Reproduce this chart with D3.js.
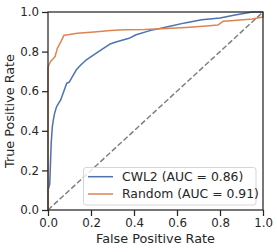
<!DOCTYPE html>
<html>
<head>
<meta charset="utf-8">
<script src="https://cdn.jsdelivr.net/npm/d3@7"></script>
<style>
  body { margin: 0; background: #fff; }
  text { font-family: "DejaVu Sans", sans-serif; fill: #262626; }
</style>
</head>
<body>
<svg></svg>
<script>
var width = 277,
    height = 252

// ROC curves: [false positive rate, true positive rate]
var cwl2Fpr = [0, 0, 0.008, 0.012, 0.015, 0.02, 0.025, 0.031, 0.04, 0.059, 0.087, 0.098, 0.133, 0.15, 0.18, 0.242, 0.288, 0.32, 0.381, 0.41, 0.474, 0.567, 0.637, 0.715, 0.8, 0.87, 0.924, 0.95, 1]
var cwl2Tpr = [0, 0.1, 0.13, 0.25, 0.34, 0.42, 0.455, 0.49, 0.522, 0.556, 0.64, 0.645, 0.71, 0.73, 0.76, 0.805, 0.838, 0.85, 0.869, 0.885, 0.906, 0.928, 0.945, 0.961, 0.97, 0.985, 0.995, 1, 1]

var randomFpr = [0, 0, 0.005, 0.012, 0.025, 0.033, 0.043, 0.06, 0.074, 0.1, 0.136, 0.214, 0.29, 0.353, 0.45, 0.55, 0.66, 0.75, 0.79, 0.814, 0.85, 0.95, 1, 1]
var randomTpr = [0, 0.72, 0.735, 0.75, 0.765, 0.775, 0.815, 0.85, 0.882, 0.886, 0.893, 0.899, 0.906, 0.91, 0.912, 0.917, 0.923, 0.93, 0.934, 0.953, 0.956, 0.965, 0.975, 1]

var seriesNames = ["CWL2 (AUC = 0.86)", "Random (AUC = 0.91)"]
var seriesColors = ["#4c72b0", "#dd8452"]
var tickValues = [0, 0.2, 0.4, 0.6, 0.8, 1.0]

var svg = d3.select("svg").attr("width", width).attr("height", height)

var x = d3.scaleLinear().domain([0, 1]).range([48, 263])
var y = d3.scaleLinear().domain([0, 1]).range([210, 12])

var line = d3.line()
  .x(function(d) { return x(d[0]) })
  .y(function(d) { return y(d[1]) })

// chance diagonal
svg.append("path")
  .datum([[0, 0], [1, 1]])
  .attr("d", line)
  .attr("fill", "none")
  .attr("stroke", "#808080")
  .attr("stroke-width", 1.5)
  .attr("stroke-dasharray", "5.5,2.4")

var series = [
  d3.zip(cwl2Fpr, cwl2Tpr),
  d3.zip(randomFpr, randomTpr)
]

series.forEach(function(s, i) {
  svg.append("path")
    .datum(s)
    .attr("d", line)
    .attr("fill", "none")
    .attr("stroke", seriesColors[i])
    .attr("stroke-width", 1.5)
    .attr("stroke-linejoin", "round")
})

// axes
var fmt = d3.format(".1f")
var xAxis = svg.append("g")
  .attr("transform", "translate(0,210)")
  .call(d3.axisBottom(x).tickValues(tickValues).tickFormat(fmt).tickSize(6).tickPadding(3))
var yAxis = svg.append("g")
  .attr("transform", "translate(48,0)")
  .call(d3.axisLeft(y).tickValues(tickValues).tickFormat(fmt).tickSize(6).tickPadding(3))

;[xAxis, yAxis].forEach(function(a) {
  a.select(".domain").remove()
  a.selectAll(".tick line").attr("stroke", "#262626").attr("stroke-width", 1.25)
  a.selectAll(".tick text").attr("fill", "#262626").style("font-size", "11.8px").style("font-family", "DejaVu Sans")
})

// frame
svg.append("rect")
  .attr("x", 48).attr("y", 12)
  .attr("width", 215).attr("height", 198)
  .attr("fill", "none")
  .attr("stroke", "#262626")
  .attr("stroke-width", 1.25)

svg.append("text")
  .attr("x", 155.5).attr("y", 243)
  .attr("text-anchor", "middle")
  .style("font-size", "12.8px")
  .text("False Positive Rate")

svg.append("text")
  .attr("transform", "translate(14,111) rotate(-90)")
  .attr("text-anchor", "middle")
  .style("font-size", "12.8px")
  .text("True Positive Rate")

// legend
var legend = svg.append("g")
legend.append("rect")
  .attr("x", 83.5).attr("y", 167.5)
  .attr("width", 172.5).attr("height", 37.5)
  .attr("rx", 2.5)
  .attr("fill", "#fff").attr("fill-opacity", 0.8)
  .attr("stroke", "#d6d6d6").attr("stroke-width", 1)

seriesNames.forEach(function(name, i) {
  var cy = 176.7 + i * 17.3
  legend.append("line")
    .attr("x1", 88).attr("x2", 113)
    .attr("y1", cy).attr("y2", cy)
    .attr("stroke", seriesColors[i])
    .attr("stroke-width", 1.5)
  legend.append("text")
    .attr("x", 122).attr("y", cy)
    .attr("dy", "0.35em")
    .style("font-size", "12.4px")
    .text(name)
})
</script>
</body>
</html>
